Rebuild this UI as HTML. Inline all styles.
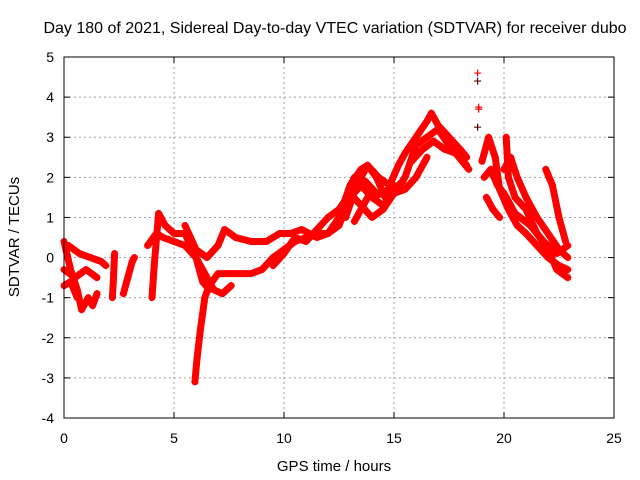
<!DOCTYPE html>
<html><head><meta charset="utf-8"><style>
body{margin:0;background:#fff}
svg{display:block;font-family:"Liberation Sans",sans-serif}
</style></head><body>
<svg id="chart" width="640" height="480">
<text x="335" y="33" font-size="16" text-anchor="middle">Day 180 of 2021, Sidereal Day-to-day VTEC variation (SDTVAR) for receiver dubo</text>
<text x="334" y="471" font-size="15" text-anchor="middle">GPS time / hours</text>
<text transform="translate(19,237) rotate(-90)" font-size="15" text-anchor="middle">SDTVAR / TECUs</text>
<g id="grid"></g><g id="ticks"></g><g id="marks"></g>
<rect x="64" y="57" width="550" height="361" fill="none" stroke="#000"/>
</svg>
<script>
const xTicks=[0,5,10,15,20,25];
const yTicks=[-4,-3,-2,-1,0,1,2,3,4,5];
const arcA=[[0,0.4],[0.3,-0.3],[0.6,-0.8],[0.8,-1.3],[1.1,-1.0],[1.3,-1.2],[1.5,-0.9]];
const arcB=[[0,-0.3],[0.5,-0.5],[1.0,-0.3],[1.5,-0.5]];
const arcC=[[0.2,0.3],[0.7,0.1],[1.2,0.0],[1.7,-0.1],[1.9,-0.2]];
const arcD=[[0,-0.7],[0.3,-0.6],[0.6,-1.0]];
const arcS1=[[2.2,-1.0],[2.25,-0.5],[2.3,0.1]];
const arcS2=[[2.7,-0.9],[2.9,-0.5],[3.1,-0.1],[3.2,0.0]];
const arcE=[[3.8,0.3],[4.2,0.6],[4.5,0.5],[5.0,0.4],[5.5,0.3],[6.0,0.0],[6.3,-0.6],[6.6,-0.8]];
const arcF=[[4.0,-1.0],[4.1,-0.2],[4.3,1.1],[4.6,0.8],[5.0,0.6],[5.5,0.6],[5.9,0.1],[6.2,-0.2],[6.5,-0.5],[6.8,-0.8],[7.2,-0.9],[7.6,-0.7]];
const arcG=[[5.95,-3.1],[6.05,-2.5],[6.2,-1.8],[6.4,-1.0],[6.6,-0.7],[7.0,-0.4],[7.5,-0.4],[8.0,-0.4],[8.5,-0.4],[9.0,-0.3],[9.5,0.0],[10.0,0.2],[10.5,0.4],[11.0,0.5],[11.5,0.6],[12.0,0.6],[12.5,1.0],[13.0,1.8],[13.5,2.2],[13.8,2.3],[14.2,2.0],[14.6,1.5]];
const arcH=[[5.5,0.8],[6.0,0.2],[6.5,0.0],[7.0,0.3],[7.3,0.7],[7.8,0.5],[8.5,0.4],[9.2,0.4],[9.8,0.6],[10.3,0.6],[10.8,0.7],[11.5,0.5],[12.0,0.6],[12.5,0.8],[13.0,1.5],[13.5,1.8],[14.0,1.5],[14.5,1.3],[15.0,1.6],[15.5,1.7],[16.0,2.0],[16.5,2.5]];
const arcI=[[9.5,-0.2],[10.0,0.1],[10.5,0.5],[11,0.4],[11.5,0.7],[12.0,1.0],[12.5,1.2],[13.0,1.6],[13.5,1.3],[14.0,1.0],[14.5,1.2],[15.0,1.6],[15.5,2.0],[16.0,2.8],[16.5,3.0],[17.0,3.2],[17.5,2.8],[18.0,2.5],[18.3,2.3]];
const arcJ=[[12.8,1.0],[13.3,1.8],[13.8,2.3],[14.3,2.0],[14.8,1.8],[15.2,2.3],[15.5,2.6],[16.0,3.0],[16.5,3.4],[16.7,3.6],[17.0,3.3],[17.5,3.0],[18.0,2.7],[18.3,2.5]];
const arcK=[[13.2,0.9],[13.8,1.5],[14.5,1.6],[15.0,1.8]];
const arcQ=[[15.8,2.4],[16.3,2.7],[16.8,2.9],[17.3,2.7],[17.8,2.6],[18.4,2.2]];
const arcR=[[12.7,1.3],[13.2,2.0],[13.7,1.9],[14.2,1.6],[14.8,1.6],[15.4,1.9]];
const arcL=[[19.0,2.4],[19.3,3.0],[19.6,2.5],[19.8,1.7],[20.2,1.2],[20.6,0.8],[21.0,0.6],[21.5,0.3],[22.0,0.0],[22.5,-0.2],[22.9,-0.3]];
const arcM=[[19.2,1.5],[19.5,1.2],[19.8,1.0]];
const arcN=[[20.0,2.2],[20.3,2.5],[20.6,2.0],[21.0,1.5],[21.5,1.0],[22.0,0.6],[22.5,0.2],[22.9,0.0]];
const arcO=[[20.1,3.0],[20.2,2.0],[20.5,1.5],[21.0,1.2],[21.5,0.6],[22.0,0.2],[22.4,-0.3],[22.9,-0.5]];
const arcP=[[21.9,2.2],[22.2,1.8],[22.5,1.0],[22.8,0.4]];
const arcT=[[19.1,2.0],[19.4,2.2],[19.7,1.8],[20.0,1.6],[20.5,1.1],[21.2,0.8],[21.8,0.4],[22.4,0.1],[22.9,0.3]];
const outliers=[[18.8,4.6],[18.8,4.4],[18.85,3.75],[18.85,3.7],[18.8,3.25]];
const arcs=[arcA,arcB,arcC,arcD,arcS1,arcS2,arcE,arcF,arcG,arcH,arcI,arcJ,arcK,arcQ,arcR,arcL,arcM,arcN,arcO,arcP,arcT];

const X=v=>64+v*22, Y=v=>57+(5-v)*361/9;
const NS='http://www.w3.org/2000/svg';
const mk=(t,a,p)=>{const e=document.createElementNS(NS,t);for(const k in a)e.setAttribute(k,a[k]);p.appendChild(e);return e;};
const grid=document.getElementById('grid'),ticks=document.getElementById('ticks'),marks=document.getElementById('marks');
xTicks.forEach(t=>{
 if(t>0&&t<25){const g=mk('line',{x1:X(t),x2:X(t),y1:57,y2:418,stroke:'#a0a0a0','stroke-dasharray':'2,3'},grid);
 
 }
 mk('line',{x1:X(t),x2:X(t),y1:418,y2:412,stroke:'#000'},ticks);
 mk('line',{x1:X(t),x2:X(t),y1:57,y2:63,stroke:'#000'},ticks);
 const l=mk('text',{x:X(t),y:443,'font-size':14,'text-anchor':'middle'},ticks);l.textContent=t;
 
 
});
yTicks.forEach(t=>{
 if(t>-4&&t<5){const g=mk('line',{x1:64,x2:614,y1:Y(t),y2:Y(t),stroke:'#a0a0a0','stroke-dasharray':'2,3'},grid);
 
 }
 mk('line',{x1:64,x2:70,y1:Y(t),y2:Y(t),stroke:'#000'},ticks);
 mk('line',{x1:614,x2:608,y1:Y(t),y2:Y(t),stroke:'#000'},ticks);
 const l=mk('text',{x:54,y:Y(t)+5,'font-size':14,'text-anchor':'end'},ticks);l.textContent=t;
 
 
});
function plus(x,y,c){mk('path',{d:`M${X(x)-3.5},${Y(y)}h7M${X(x)},${Y(y)-3.5}v7`,stroke:c,'stroke-width':1.2},marks);}
arcs.forEach((a,i)=>{
 const p=mk('polyline',{points:a.map(d=>X(d[0])+','+Y(d[1])).join(' '),fill:'none',stroke:'#f00','stroke-width':7,'stroke-linejoin':'round','stroke-linecap':'round'},marks);
 
 
 a.forEach(d=>plus(d[0],d[1],'#f00'));
});
outliers.forEach((d,i)=>{const c=(i==1||i==4)?'#600':'#f00';plus(d[0],d[1],c);});
</script>
</body></html>
